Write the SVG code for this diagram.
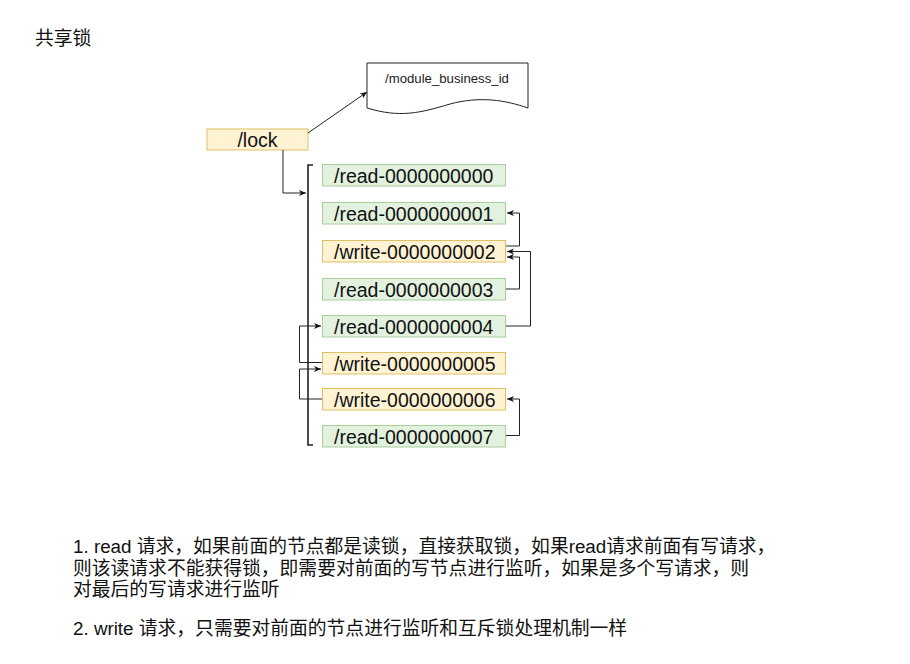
<svg xmlns="http://www.w3.org/2000/svg" width="910" height="664" viewBox="0 0 910 664">
<defs>
<marker id="ah" markerWidth="8" markerHeight="8" refX="7" refY="4" orient="auto" markerUnits="userSpaceOnUse">
<path d="M0,1 L7,4 L0,7 L2,4 Z" fill="#111"/>
</marker>
<style>
.g{fill:#e3f2df;stroke:#a9cf9e;stroke-width:1}
.y{fill:#fff3d3;stroke:#e0c064;stroke-width:1}
.t{font-family:"Liberation Sans",Arial,sans-serif;font-size:19.5px;fill:#111}
.c{fill:none;stroke:#222;stroke-width:1}
.z{font-family:"Liberation Sans","Noto Sans CJK SC",sans-serif;font-size:18.8px;fill:#111}
</style>
</defs>
<rect width="910" height="664" fill="#fff"/>
<text class="z" x="35" y="45">共享锁</text>

<g id="doc">
<path d="M367,63 L528,63 L528,108 C505,100 480,96 450,104 C420,113 400,118 367,108 Z" fill="#fff" stroke="#222" stroke-width="1"/>
<text x="385" y="83" font-family="Liberation Sans,Arial,sans-serif" font-size="13.2" fill="#222">/module_business_id</text>
</g>
<g id="lock">
<rect class="y" x="207" y="129" width="101" height="21"/>
<text class="t" x="257.5" y="147" text-anchor="middle">/lock</text>
</g>
<g id="bracket">
<path d="M313,165 L308,165 L308,445 L313,445" fill="none" stroke="#222" stroke-width="1.6"/>
</g>
<g id="n0"><rect class="g" x="322.5" y="164.5" width="183" height="21.5"/><text class="t" x="334" y="182.5">/read-0000000000</text></g>
<g id="n1"><rect class="g" x="322.5" y="202.5" width="183" height="21.5"/><text class="t" x="334" y="220.5">/read-0000000001</text></g>
<g id="n2"><rect class="y" x="322.5" y="240.5" width="183" height="21.5"/><text class="t" x="334" y="258.5">/write-0000000002</text></g>
<g id="n3"><rect class="g" x="322.5" y="278.5" width="183" height="21.5"/><text class="t" x="334" y="296.5">/read-0000000003</text></g>
<g id="n4"><rect class="g" x="322.5" y="315.5" width="183" height="21.5"/><text class="t" x="334" y="333.5">/read-0000000004</text></g>
<g id="n5"><rect class="y" x="322.5" y="352.5" width="183" height="21.5"/><text class="t" x="334" y="370.5">/write-0000000005</text></g>
<g id="n6"><rect class="y" x="322.5" y="388.5" width="183" height="21.5"/><text class="t" x="334" y="406.5">/write-0000000006</text></g>
<g id="n7"><rect class="g" x="322.5" y="425.5" width="183" height="21.5"/><text class="t" x="334" y="443.5">/read-0000000007</text></g>

<g id="connectors">
<path class="c" d="M308,133 L367,92" marker-end="url(#ah)"/>
<path class="c" d="M283,150 L283,193 L306,193" marker-end="url(#ah)"/>
<path class="c" d="M506,246 L519.5,246 L519.5,213 L507,213" marker-end="url(#ah)"/>
<path class="c" d="M506,289 L519.5,289 L519.5,257 L507,257" marker-end="url(#ah)"/>
<path class="c" d="M506,326 L530.5,326 L530.5,251.5 L507,251.5" marker-end="url(#ah)"/>
<path class="c" d="M322,362.5 L299.5,362.5 L299.5,326 L321,326" marker-end="url(#ah)"/>
<path class="c" d="M322,399 L299.5,399 L299.5,369 L321,369" marker-end="url(#ah)"/>
<path class="c" d="M506,435.5 L519.5,435.5 L519.5,399 L507,399" marker-end="url(#ah)"/>
</g>

<g id="notes">
<text class="z" x="73" y="553">1. read 请求，如果前面的节点都是读锁，直接获取锁，如果read请求前面有写请求，</text>
<text class="z" x="73" y="575">则该读请求不能获得锁，即需要对前面的写节点进行监听，如果是多个写请求，则</text>
<text class="z" x="73" y="596">对最后的写请求进行监听</text>
<text class="z" x="73" y="635">2. write 请求，只需要对前面的节点进行监听和互斥锁处理机制一样</text>
</g>
</svg>
